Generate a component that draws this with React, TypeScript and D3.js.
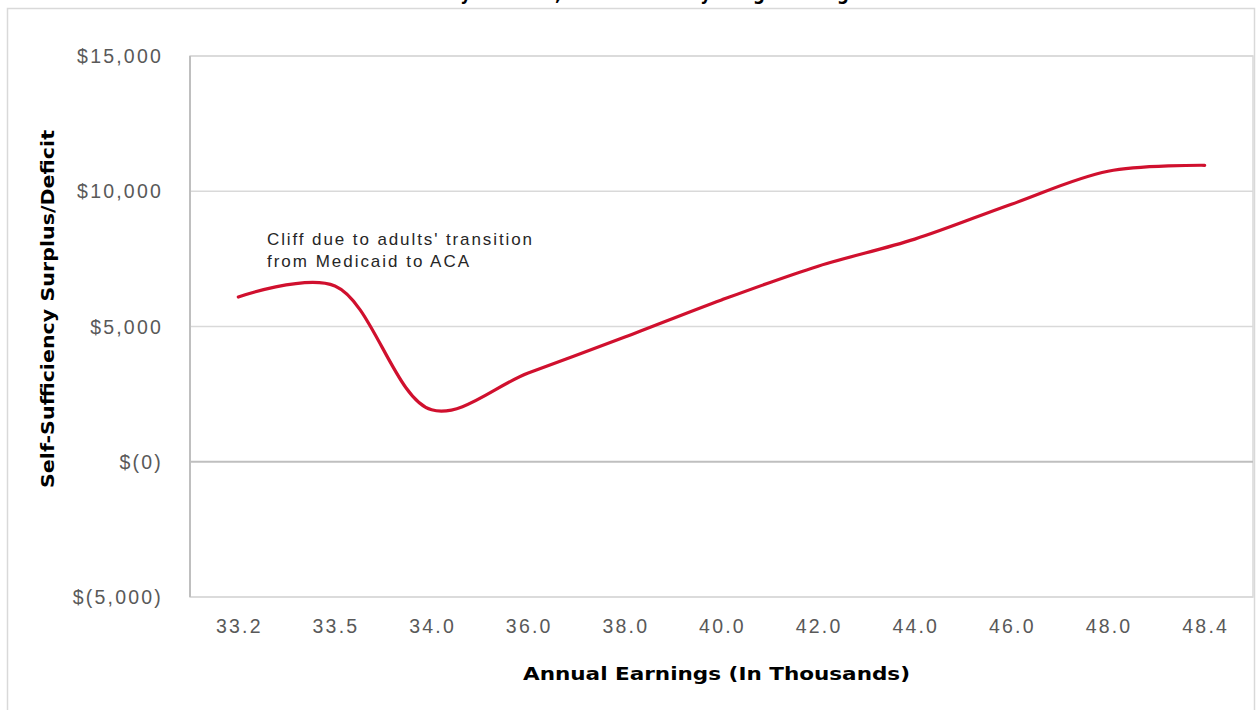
import React from "react";
import * as d3 from "d3";

const categories: string[] = ["33.2", "33.5", "34.0", "36.0", "38.0", "40.0", "42.0", "44.0", "46.0", "48.0", "48.4"];
const surplus: number[] = [6090, 6500, 1920, 3280, 4610, 5980, 7230, 8230, 9520, 10740, 10960];
const yTicks: number[] = [-5000, 0, 5000, 10000, 15000];
const yTickLabels: string[] = ["$(5,000)", "$(0)", "$5,000", "$10,000", "$15,000"];
const titleText = "Family of Three, Self-Sufficiency Budget Change";
const xTitle = "Annual Earnings (In Thousands)";
const yTitle = "Self-Sufficiency Surplus/Deficit";
const noteLines: string[] = ["Cliff due to adults' transition", "from Medicaid to ACA"];

const W = 1259;
const H = 710;
const plot = { left: 190, right: 1253, top: 56, bottom: 597 };

export default function App() {
  const x = d3.scaleBand<string>().domain(categories).range([plot.left, plot.right]).padding(0);
  const y = d3.scaleLinear().domain([-5000, 15000]).range([plot.bottom, plot.top]);
  const line = d3
    .line<number>()
    .x((_, i) => (x(categories[i]) as number) + x.bandwidth() / 2)
    .y((d) => y(d))
    .curve(d3.curveCatmullRom.alpha(0.5));
  const path = line(surplus) || "";
  const tickFont = "'Liberation Sans', Arial, sans-serif";
  const boldFont = "'DejaVu Sans', Verdana, sans-serif";

  return (
    <div style={{ position: "absolute", left: 0, top: 0 }}>
      <svg width={W} height={H} style={{ display: "block", background: "#fff" }}>
        {/* title, cut off by the top edge as in the reference */}
        <text x={635} y={-0.5} textAnchor="middle" fontFamily={boldFont} fontWeight="bold" fontSize={19} fill="#000" textLength={450} lengthAdjust="spacingAndGlyphs">
          {titleText}
        </text>
        {/* outer frame */}
        <rect x={7.5} y={8.5} width={1247} height={740} fill="none" stroke="#d9d9d9" strokeWidth={1.5} />
        {/* plot area border */}
        <rect x={plot.left} y={plot.top} width={plot.right - plot.left} height={plot.bottom - plot.top} fill="none" stroke="#d9d9d9" strokeWidth={1.5} />
        {/* gridlines */}
        {yTicks.map((t) => (
          <line key={"g" + t} x1={plot.left} x2={plot.right} y1={y(t)} y2={y(t)} stroke={t === 0 ? "#bfbfbf" : "#d9d9d9"} strokeWidth={t === 0 ? 2 : 1.5} />
        ))}
        <line x1={plot.left} x2={plot.left} y1={plot.top} y2={plot.bottom} stroke="#bfbfbf" strokeWidth={2} />
        {/* y tick labels */}
        {yTicks.map((t, i) => (
          <text key={"yl" + t} x={163} y={y(t) + 7} textAnchor="end" fontFamily={tickFont} fontSize={19.5} letterSpacing={2.2} fill="#595959">
            {yTickLabels[i]}
          </text>
        ))}
        {/* x tick labels */}
        {categories.map((c) => (
          <text key={"xl" + c} x={(x(c) as number) + x.bandwidth() / 2 + 1} y={633} textAnchor="middle" fontFamily={tickFont} fontSize={19.5} letterSpacing={2.2} fill="#595959">
            {c}
          </text>
        ))}
        {/* series */}
        <path d={path} fill="none" stroke="#d0102e" strokeWidth={3.2} strokeLinecap="round" strokeLinejoin="round" />
        {/* annotation */}
        {noteLines.map((l, i) => (
          <text key={"n" + i} x={267} y={245 + i * 22} fontFamily={tickFont} fontSize={17} fill="#262626" textLength={i === 0 ? 265 : 202} lengthAdjust="spacing">
            {l}
          </text>
        ))}
        {/* axis titles */}
        <text x={716.5} y={680} textAnchor="middle" fontFamily={boldFont} fontWeight="bold" fontSize={18} fill="#000" textLength={387} lengthAdjust="spacingAndGlyphs">
          {xTitle}
        </text>
        <text transform={`translate(54,309) rotate(-90)`} textAnchor="middle" fontFamily={boldFont} fontWeight="bold" fontSize={18.5} fill="#000" textLength={358} lengthAdjust="spacingAndGlyphs">
          {yTitle}
        </text>
      </svg>
    </div>
  );
}
